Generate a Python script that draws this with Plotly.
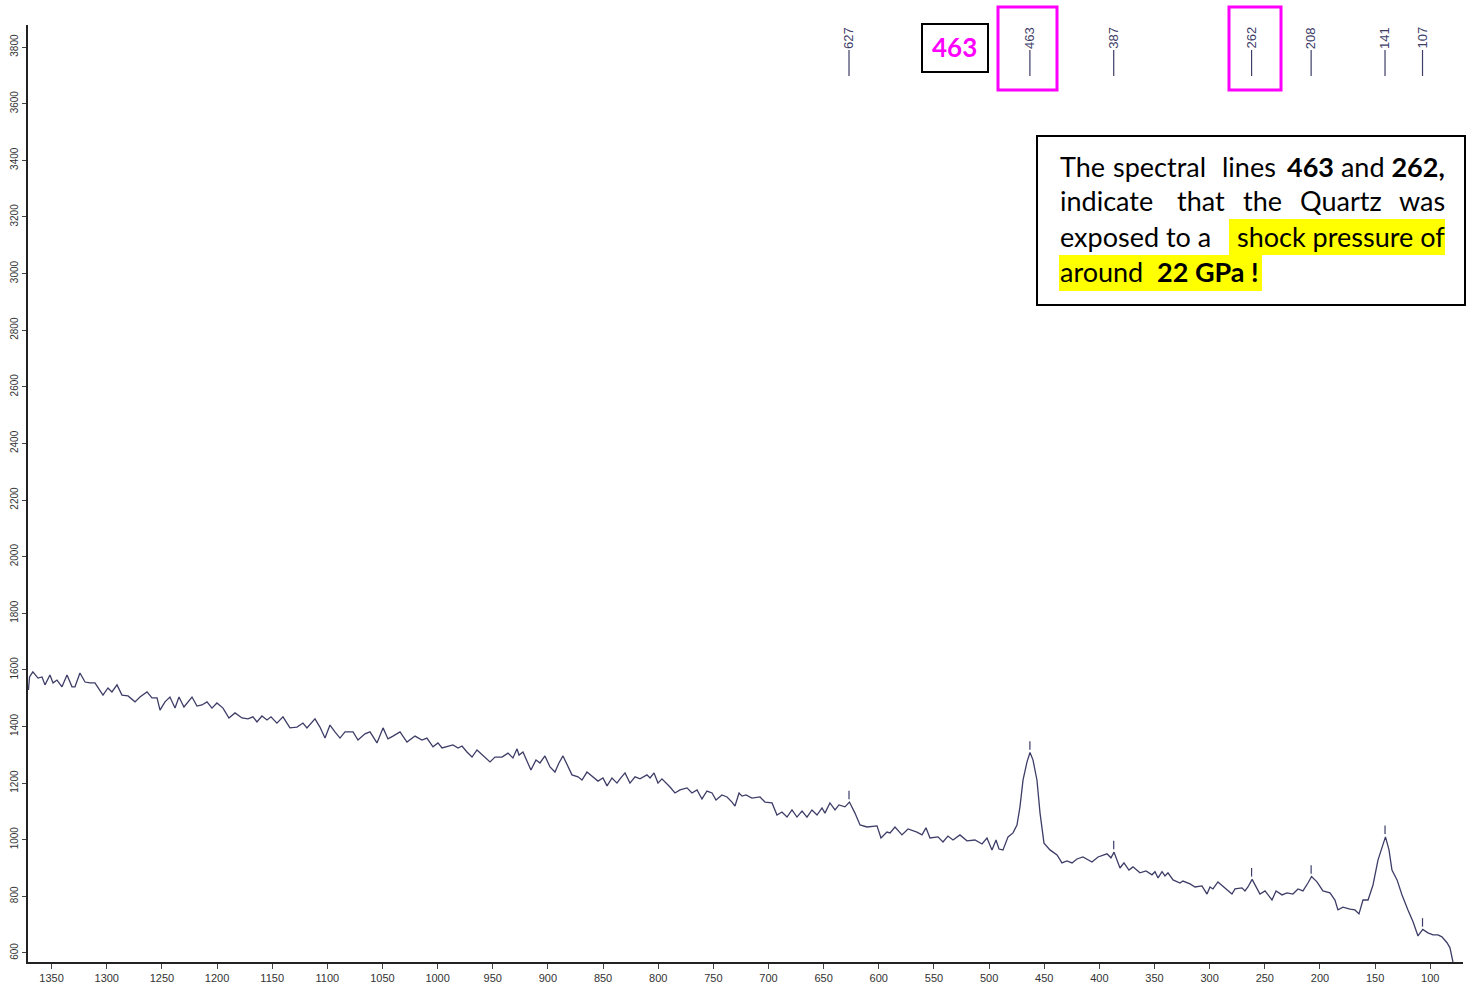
import numpy as np
import plotly.graph_objects as go

# Raman shift (cm-1) and intensity
wavenumber = [
    1371, 1370, 1367, 1362.3, 1358.7, 1356, 1351.5, 1348.7, 1345.1, 1340.6, 1336, 1331.5, 1328.8,
    1324.3, 1319.7, 1315.2, 1310.7, 1303.4, 1298.9, 1295.3, 1290.7, 1286.2, 1280.7, 1274.4, 1269.9,
    1263.5, 1259, 1254.4, 1251.7, 1247.2, 1242.7, 1238.1, 1234.5, 1230, 1222.7, 1218.2, 1213.7,
    1209.1, 1204.6, 1200.1, 1194.6, 1189.2, 1183.7, 1177.4, 1172, 1167.4, 1163.8, 1159.3, 1154.7,
    1151.1, 1145.7, 1140.2, 1133.9, 1127.5, 1122.1, 1118.5, 1111.2, 1106.7, 1102.1, 1097.6, 1093.1,
    1088.5, 1084, 1076.7, 1072.2, 1065.9, 1061.3, 1055, 1049.5, 1045, 1040.5, 1034.1, 1027.8, 1020.5,
    1014.2, 1009.7, 1004.2, 999.7, 996, 991.5, 986.1, 981.5, 977.9, 973.4, 968.8, 964.3, 958.9, 952.5,
    948, 941.6, 936.2, 931.7, 928, 926.2, 922.6, 919, 915.4, 910.8, 907.2, 902.7, 898.1, 893.6, 890,
    886.3, 882.7, 878.2, 872.7, 869.1, 864.6, 860, 854.6, 850.1, 846.4, 841.9, 837.4, 834.6, 830.1,
    825.6, 821, 816.5, 810.2, 807.4, 803.8, 800.2, 796.6, 789.3, 784.8, 780.2, 773.9, 769.4, 764.8,
    760.3, 755.8, 751.2, 747.6, 742.2, 737.6, 733.1, 730.4, 726.7, 724, 720.4, 715, 707.7, 703.2,
    696.8, 692.3, 687.8, 683.2, 678.7, 674.2, 669.6, 665.1, 660.6, 656, 651.5, 648.8, 644.3, 639.7,
    636.1, 630.7, 626.6, 621.6, 617, 610.7, 601.6, 598, 592.6, 589.8, 585.3, 579, 573.5, 565.4, 560.8,
    557.2, 553.6, 546.3, 541.8, 537.3, 532.7, 526.4, 520.1, 512.8, 506.4, 501.9, 497.4, 493.7, 491,
    487.4, 482.8, 478.3, 474.7, 472, 469.2, 465.6, 462.9, 460.2, 456.6, 453.8, 450.2, 444.8, 438.4,
    433.9, 429.4, 424.8, 420.3, 414.9, 406.7, 401.2, 393.1, 389.5, 386.7, 381.3, 377.7, 373.2, 369.5,
    363.2, 357.7, 352.3, 349.6, 346.8, 343.2, 340.5, 337.8, 333.2, 326.9, 324.2, 317.8, 313.3, 307,
    302.4, 299.7, 297, 292.5, 286.1, 279.8, 277, 270.7, 268, 265.3, 261.5, 257.1, 254.4, 249.8, 243.5,
    239.8, 234.4, 229.9, 224.5, 219.9, 215.4, 210.9, 207.6, 202.7, 197.3, 190.9, 186.4, 183.7, 179.1,
    172.8, 168.3, 164.6, 161, 156.4, 151.9, 147.4, 142.9, 140.6, 137.4, 134.7, 130.1, 125.6, 120.2,
    115.6, 111.1, 106.8, 102.1, 97.5, 93, 89.4, 84.8, 82.1, 79.4,
]
intensity = [
    1529, 1575, 1593, 1571, 1575, 1547, 1582, 1554, 1564, 1540, 1582, 1540, 1540,
    1589, 1557, 1554, 1554, 1511, 1536, 1522, 1547, 1511, 1508, 1487, 1504,
    1522, 1501, 1501, 1458, 1487, 1504, 1465, 1504, 1469, 1504, 1472, 1476,
    1487, 1465, 1483, 1465, 1430, 1448, 1430, 1427, 1434, 1416, 1437, 1423,
    1434, 1412, 1434, 1395, 1398, 1412, 1395, 1427, 1398, 1359, 1405, 1381,
    1359, 1381, 1381, 1352, 1374, 1381, 1342, 1395, 1356, 1366, 1381, 1345, 1366,
    1352, 1359, 1328, 1342, 1324, 1328, 1335, 1324, 1331, 1310, 1292, 1317, 1299, 1275,
    1292, 1292, 1306, 1289, 1321, 1299, 1310, 1275, 1246, 1282, 1271, 1296, 1257, 1239, 1271,
    1296, 1264, 1229, 1222, 1211, 1239, 1225, 1207, 1218, 1190, 1218, 1200, 1215, 1236,
    1200, 1222, 1215, 1229, 1218, 1236, 1200, 1215, 1186, 1165, 1176, 1183, 1165, 1176,
    1144, 1172, 1165, 1140, 1158, 1151, 1133, 1119, 1165, 1154, 1158, 1147, 1151, 1133,
    1130, 1087, 1098, 1080, 1105, 1080, 1101, 1080, 1105, 1087, 1112, 1094, 1130, 1105,
    1123, 1116, 1133, 1094, 1052, 1045, 1049, 1006, 1027, 1024, 1045, 1017, 1038, 1027, 1017,
    1042, 1006, 1010, 992, 1013, 999, 1017, 996, 999, 985, 1006, 964, 999, 967,
    964, 1010, 1024, 1052, 1116, 1211, 1275, 1308, 1282, 1211, 1094, 988, 964, 946,
    918, 925, 918, 932, 939, 921, 939, 950, 936, 956, 900, 918, 893, 904,
    883, 890, 876, 887, 865, 887, 872, 883, 858, 847, 854, 844, 833, 837,
    808, 833, 826, 851, 830, 808, 826, 830, 819, 833, 860, 830, 808, 819, 787,
    819, 805, 812, 808, 826, 819, 847, 870, 851, 819, 812, 787, 752, 762,
    755, 752, 738, 787, 787, 840, 928, 981, 1010, 964, 893, 858, 805, 752,
    710, 660, 683, 671, 664, 664, 657, 636, 618, 568,
]

peaks = [627, 463, 387, 262, 208, 141, 107]
x_ticks = list(range(100, 1351, 50))
y_ticks = list(range(600, 3801, 200))

W, H = 1473, 985
L, R, T, B = 28, 10, 25, 23
PW, PH = W - L - R, H - T - B


def px(xp):
    return (xp - L) / PW


def py(yp):
    return (H - B - yp) / PH


line_col = "#3d3d68"
fig = go.Figure()
fig.add_trace(go.Scatter(x=wavenumber, y=intensity, mode="lines",
                         line=dict(color=line_col, width=1.3), hoverinfo="skip"))

wn = np.array(wavenumber)
it = np.array(intensity)
shapes = []
annotations = []
for p in peaks:
    m = np.abs(wn - p) <= 4
    top = it[m].max()
    # small marker above the peak on the spectrum
    shapes.append(dict(type="line", xref="x", yref="y", x0=p, x1=p, y0=top + 10, y1=top + 40,
                       line=dict(color=line_col, width=1.2)))
    # labelled marker at the top of the plot
    shapes.append(dict(type="line", xref="x", yref="paper", x0=p, x1=p, y0=py(76), y1=py(50),
                       line=dict(color=line_col, width=1.2)))
    annotations.append(dict(x=p, y=py(51), xref="x", yref="paper", text=str(p), showarrow=False,
                            textangle=-90, xanchor="center", yanchor="bottom",
                            font=dict(family="Liberation Sans, Arial", size=13, color=line_col)))

# magenta highlight boxes & black "463" box
magenta = "#ff00ff"
for x0, x1 in [(998, 1057), (1229, 1281)]:
    shapes.append(dict(type="rect", xref="paper", yref="paper", x0=px(x0), x1=px(x1),
                       y0=py(90), y1=py(7), line=dict(color=magenta, width=3)))
shapes.append(dict(type="rect", xref="paper", yref="paper", x0=px(922), x1=px(988),
                   y0=py(72), y1=py(24), line=dict(color="black", width=2)))
annotations.append(dict(x=px(955), y=py(47), xref="paper", yref="paper", text="<b>463</b>",
                        showarrow=False, xanchor="center", yanchor="middle",
                        font=dict(family="Lato, Open Sans", size=26, color=magenta)))

# explanation box
shapes.append(dict(type="rect", xref="paper", yref="paper", x0=px(1037), x1=px(1465),
                   y0=py(305), y1=py(136), line=dict(color="black", width=2),
                   fillcolor="white", layer="above"))
for x0, x1, y0, y1 in [(1229, 1445, 219, 255), (1059, 1262, 255, 291)]:
    shapes.append(dict(type="rect", xref="paper", yref="paper", x0=px(x0), x1=px(x1),
                       y0=py(y1), y1=py(y0), line=dict(width=0), fillcolor="#ffff00", layer="above"))

tf = dict(family="Lato, Open Sans", size=27, color="black")
words = [
    ("The", 1058, "left", 166),
    ("spectral", 1111, "left", 166),
    ("lines", 1220, "left", 166),
    ("<b>463</b> and <b>262,</b>", 1447, "right", 166),
    ("indicate", 1058, "left", 201),
    ("that", 1175, "left", 201),
    ("the", 1241, "left", 201),
    ("Quartz", 1298, "left", 201),
    ("was", 1447, "right", 201),
    ("exposed to a", 1058, "left", 236),
    ("shock pressure of", 1447, "right", 236),
    ("around  <b>22 GPa !</b>", 1058, "left", 271),
]
for txt, xp, anc, yp in words:
    annotations.append(dict(x=px(xp), y=py(yp), xref="paper", yref="paper", text=txt,
                            showarrow=False, xanchor=anc, yanchor="middle", font=tf))

fig.update_layout(
    width=W, height=H,
    margin=dict(l=L, r=R, t=T, b=B, autoexpand=False),
    paper_bgcolor="white", plot_bgcolor="white",
    showlegend=False,
    shapes=shapes, annotations=annotations,
    xaxis=dict(range=[1371.4, 70.3], tickvals=x_ticks, showgrid=False, zeroline=False,
               automargin=False,
               showline=True, linecolor="#222", linewidth=2, ticks="outside", ticklen=5,
               tickcolor="#444", tickfont=dict(family="Liberation Sans, Arial", size=11, color="#333")),
    yaxis=dict(range=[568, 3878], tickvals=y_ticks, showgrid=False, zeroline=False,
               automargin=False,
               showline=True, linecolor="#222", linewidth=2, ticks="outside", ticklen=4,
               tickcolor="#444", tickangle=-90,
               tickfont=dict(family="Liberation Sans, Arial", size=10, color="#333")),
)

fig.write_html("out.html", config={"displayModeBar": False},
               post_script="document.body.style.margin='0px';document.body.style.overflow='hidden';")
